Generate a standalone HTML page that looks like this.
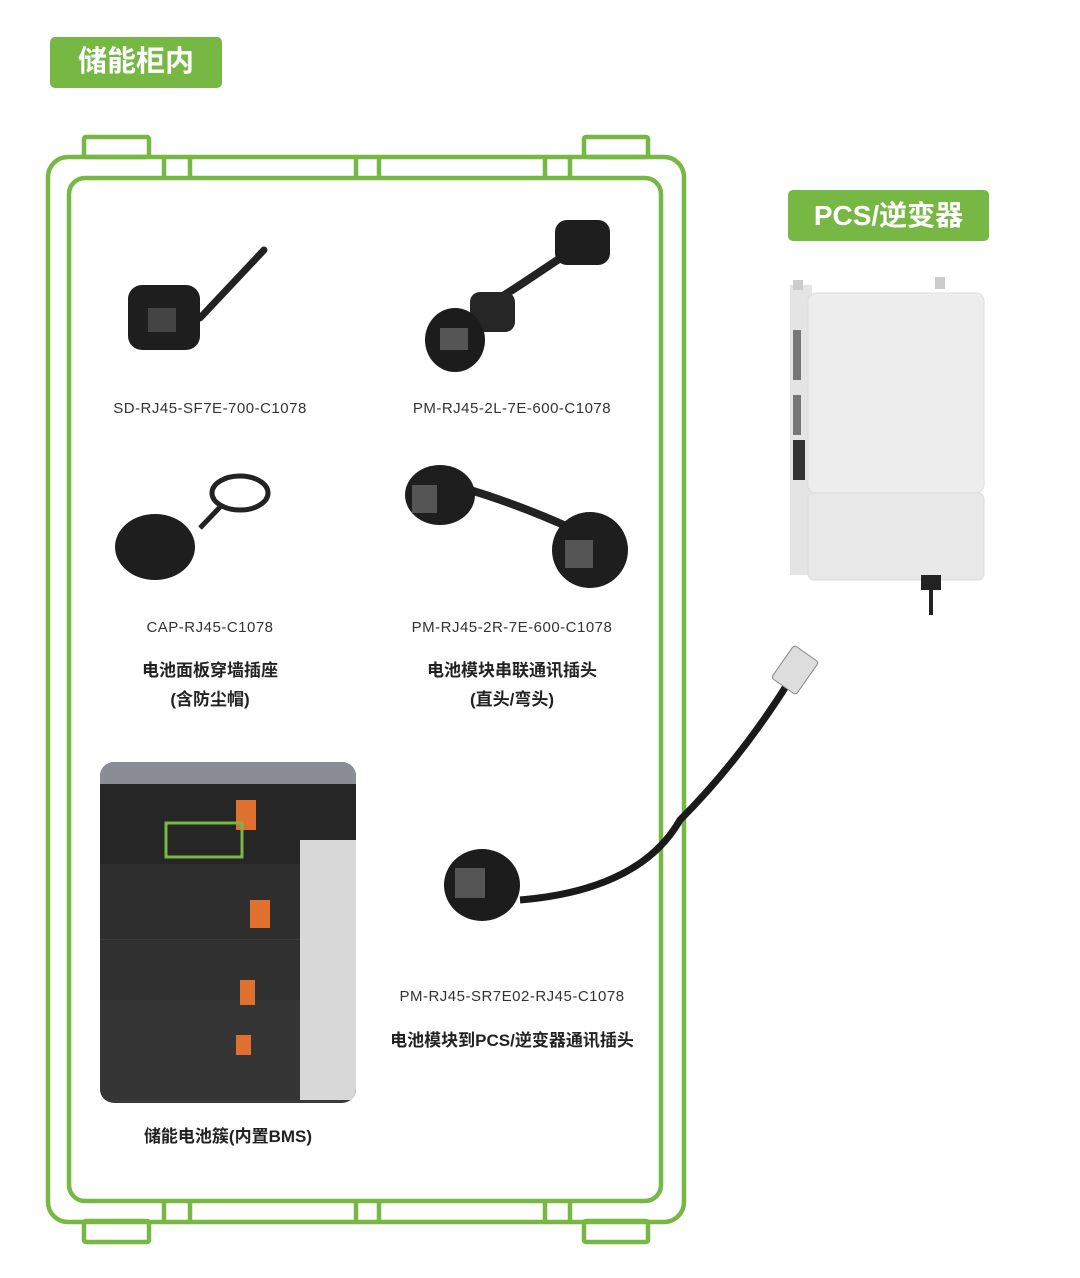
<!DOCTYPE html>
<html><head><meta charset="utf-8"><style>
html,body{margin:0;padding:0;background:#fff;}
body{width:1080px;height:1278px;position:relative;overflow:hidden;font-family:"Liberation Sans","Noto Sans CJK SC",sans-serif;}
.t{position:absolute;font-size:15px;color:#333;text-align:center;letter-spacing:0.5px;}
.b{position:absolute;font-size:17px;font-weight:bold;color:#222;text-align:center;line-height:29px;}
.g{position:absolute;background:#76b843;color:#fff;font-weight:bold;border-radius:5px;text-align:center;}
</style></head><body>
<svg width="1080" height="1278" style="position:absolute;left:0;top:0">
<g fill="none" stroke="#76b843" stroke-width="4.5" stroke-linejoin="round">
<rect x="84" y="137" width="65" height="20" rx="2"/>
<rect x="584" y="137" width="64" height="20" rx="2"/>
<rect x="84" y="1221" width="65" height="21" rx="2"/>
<rect x="584" y="1221" width="64" height="21" rx="2"/>
<rect x="48" y="157" width="636" height="1065" rx="20"/>
<rect x="69" y="178" width="592" height="1023" rx="16"/>
<path d="M164 157V178M190 157V178M356 157V178M379 157V178M545 157V178M570 157V178"/>
<path d="M164 1201V1222M190 1201V1222M356 1201V1222M379 1201V1222M545 1201V1222M570 1201V1222"/>
</g>
<!-- product 1 -->
<line x1="200" y1="318" x2="264" y2="250" stroke="#222" stroke-width="7" stroke-linecap="round"/>
<rect x="128" y="285" width="72" height="65" rx="14" fill="#1e1e1e"/>
<rect x="148" y="308" width="28" height="24" fill="#444"/>
<!-- product 2 -->
<path d="M450 330 L520 285 L595 235" stroke="#222" stroke-width="8" fill="none" stroke-linecap="round"/>
<rect x="555" y="220" width="55" height="45" rx="12" fill="#1e1e1e"/>
<rect x="470" y="292" width="45" height="40" rx="10" fill="#262626"/>
<ellipse cx="455" cy="340" rx="30" ry="32" fill="#1c1c1c"/>
<rect x="440" y="328" width="28" height="22" fill="#555"/>
<!-- cap -->
<ellipse cx="240" cy="493" rx="28" ry="17" fill="none" stroke="#222" stroke-width="5"/>
<path d="M200 528 L222 505" stroke="#222" stroke-width="5"/>
<ellipse cx="155" cy="547" rx="40" ry="33" fill="#1e1e1e"/>
<!-- product 4 -->
<path d="M470 490 Q520 505 575 530" stroke="#222" stroke-width="8" fill="none"/>
<ellipse cx="440" cy="495" rx="35" ry="30" fill="#1e1e1e"/>
<rect x="412" y="485" width="25" height="28" fill="#555"/>
<ellipse cx="590" cy="550" rx="38" ry="38" fill="#1e1e1e"/>
<rect x="565" y="540" width="28" height="28" fill="#555"/>
<!-- cable 5 -->
<path d="M520 900 Q640 890 680 820 Q740 760 790 680" stroke="#1a1a1a" stroke-width="7" fill="none"/>
<rect x="775" y="655" width="40" height="30" rx="3" fill="#ddd" stroke="#888" transform="rotate(-55 795 670)"/>
<ellipse cx="482" cy="885" rx="38" ry="36" fill="#1c1c1c"/>
<rect x="455" y="868" width="30" height="30" fill="#555"/>
<!-- inverter -->
<rect x="790" y="285" width="22" height="290" fill="#e4e4e4"/>
<rect x="793" y="280" width="10" height="10" fill="#ccc"/>
<rect x="935" y="277" width="10" height="12" fill="#ccc"/>
<rect x="808" y="293" width="176" height="200" rx="8" fill="#ededed" stroke="#ddd"/>
<rect x="808" y="493" width="176" height="87" rx="6" fill="#e8e8e8" stroke="#ddd"/>
<rect x="793" y="330" width="8" height="50" fill="#777"/>
<rect x="793" y="395" width="8" height="40" fill="#777"/>
<rect x="793" y="440" width="12" height="40" fill="#333"/>
<rect x="921" y="575" width="20" height="15" fill="#222"/>
<line x1="931" y1="590" x2="931" y2="615" stroke="#222" stroke-width="4"/>
<!-- photo -->
<defs><clipPath id="c"><rect x="100" y="762" width="256" height="341" rx="14"/></clipPath></defs>
<g clip-path="url(#c)">
<rect x="100" y="762" width="256" height="341" fill="#3a3a3a"/>
<rect x="100" y="762" width="256" height="22" fill="#8a8e94"/>
<rect x="100" y="784" width="256" height="80" fill="#262626"/>
<rect x="100" y="864" width="256" height="75" fill="#2e2e2e"/>
<rect x="100" y="940" width="256" height="60" fill="#303030"/>
<rect x="100" y="1000" width="256" height="100" fill="#353535"/>
<rect x="300" y="840" width="56" height="260" fill="#d8d8d8"/>
<rect x="236" y="800" width="20" height="30" fill="#e07030"/>
<rect x="250" y="900" width="20" height="28" fill="#e07030"/>
<rect x="240" y="980" width="15" height="25" fill="#e07030"/>
<rect x="236" y="1035" width="15" height="20" fill="#e07030"/>
<rect x="166" y="823" width="76" height="34" fill="none" stroke="#76b843" stroke-width="3"/>
</g>
</svg>
<div class="g" style="left:50px;top:37px;width:172px;height:51px;line-height:51px;font-size:29px;">储能柜内</div>
<div class="g" style="left:788px;top:190px;width:201px;height:51px;line-height:51px;font-size:28px;">PCS/逆变器</div>
<div class="t" style="left:80px;top:400px;width:260px;">SD-RJ45-SF7E-700-C1078</div>
<div class="t" style="left:382px;top:400px;width:260px;">PM-RJ45-2L-7E-600-C1078</div>
<div class="t" style="left:80px;top:619px;width:260px;">CAP-RJ45-C1078</div>
<div class="t" style="left:382px;top:619px;width:260px;">PM-RJ45-2R-7E-600-C1078</div>
<div class="b" style="left:80px;top:656px;width:260px;">电池面板穿墙插座<br>(含防尘帽)</div>
<div class="b" style="left:382px;top:656px;width:260px;">电池模块串联通讯插头<br>(直头/弯头)</div>
<div class="t" style="left:362px;top:988px;width:300px;">PM-RJ45-SR7E02-RJ45-C1078</div>
<div class="b" style="left:352px;top:1026px;width:320px;">电池模块到PCS/逆变器通讯插头</div>
<div class="b" style="left:98px;top:1122px;width:260px;">储能电池簇(内置BMS)</div>
</body></html>
